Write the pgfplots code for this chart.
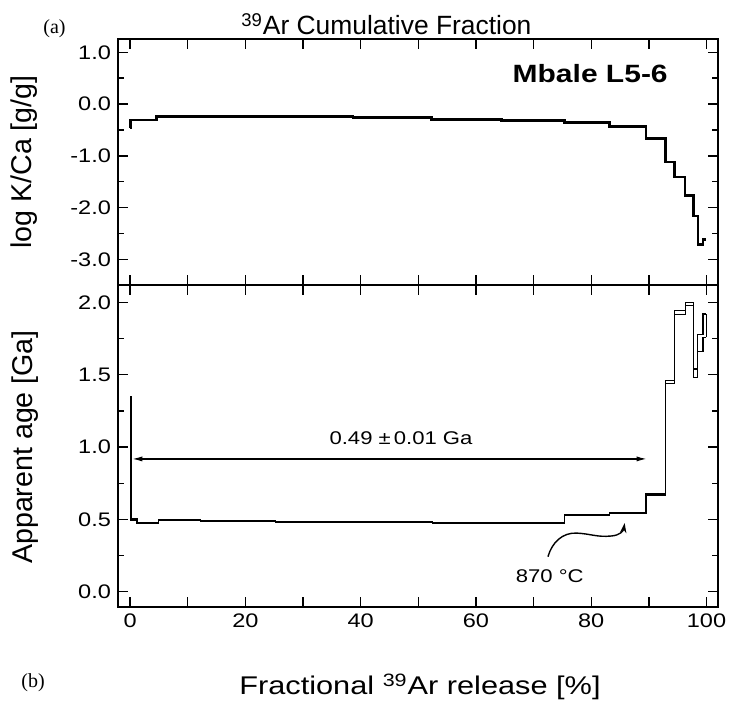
\documentclass[border=0pt]{standalone}
\usepackage{fontspec}
\setmainfont{Liberation Sans}[FakeStretch=1.2]
\newfontfamily\plainfont{Liberation Sans}
\newfontfamily\timesf{Liberation Serif}
\usepackage{pgfplots}
\usepackage{pgfplotstable}
\pgfplotsset{compat=1.18}
\usetikzlibrary{arrows.meta}

% log K/Ca step spectrum: x = start of step (% 39Ar), y = value
\pgfplotstableread{
x y
0 -0.46
0.08 -0.31
4.6 -0.235
38.7 -0.262
52.3 -0.295
64.4 -0.32
75.4 -0.36
83.2 -0.43
89.5 -0.67
92.9 -1.12
94.5 -1.41
96.3 -1.77
97.8 -2.16
98.5 -2.71
99.4 -2.62
100 -2.62
}\kca

% age spectrum: x = start of step, hi / lo = age +/- error (Ga)
\pgfplotstableread{
x hi lo
0 0.500 0.500
0 1.350 1.350
0.15 0.504 0.496
1.2 0.478 0.470
4.9 0.498 0.490
12.2 0.491 0.483
25.2 0.487 0.479
52.4 0.481 0.473
75.4 0.534 0.526
83.2 0.549 0.541
89.5 0.675 0.665
92.9 1.462 1.438
94.5 1.942 1.918
96.3 2.002 1.978
97.8 1.540 1.480
98.5 1.780 1.660
99.4 1.920 1.760
100 1.920 1.760
}\age

\begin{document}
\begin{tikzpicture}
\useasboundingbox (0pt,0pt) rectangle (364.5pt,352pt);
\pgfplotsset{
  panel/.style={
    scale only axis, width=300pt,
    xmin=-2.1, xmax=102,
    axis line style={line width=0.8pt},
    every tick/.style={line width=0.7pt, black},
    tick align=inside,
    major tick length=5pt, minor tick length=3pt,
    tick label style={font=\fontsize{9.8}{11}\selectfont},
    xtick={0,10,...,100},
  },
}
% ---------- (a) log K/Ca ----------
\begin{axis}[panel, at={(59pt,209.5pt)}, anchor=south west, height=123pt,
  ymin=-3.495, ymax=1.257,
  xticklabels={},
  ytick={-3,-2,-1,0,1},
  yticklabels={\mbox{-3.0},\mbox{-2.0},\mbox{-1.0},\mbox{0.0},\mbox{1.0}},
  minor ytick={-3.5,-2.5,-1.5,-0.5,0.5},
]
\addplot[const plot, black, line width=1.3pt] table[x=x, y=y] {\kca};
\node[anchor=east, font=\fontsize{12.5}{14}\selectfont\bfseries] at (axis cs:94.5,0.586) {Mbale L5-6};
\end{axis}
% ---------- (b) apparent age ----------
\begin{axis}[panel, at={(59pt,48.5pt)}, anchor=south west, height=161pt,
  ymin=-0.106, ymax=2.121,
  xticklabels={\mbox{0},,\mbox{20},,\mbox{40},,\mbox{60},,\mbox{80},,\mbox{100}},
  ytick={0,0.5,1,1.5,2},
  yticklabels={\mbox{0.0},\mbox{0.5},\mbox{1.0},\mbox{1.5},\mbox{2.0}},
  minor ytick={0.25,0.75,1.25,1.75},
]
\addplot[const plot, black, line width=0.6pt] table[x=x, y=hi] {\age};
\addplot[const plot, black, line width=0.6pt] table[x=x, y=lo] {\age};
\addplot[black, line width=0.6pt] coordinates {(100,1.76) (100,1.92)};
\draw[{Latex[length=5pt,width=2.6pt]}-{Latex[length=5pt,width=2.6pt]}, line width=0.6pt]
  (axis cs:0.4,0.918) -- (axis cs:89.6,0.918);
\node[font=\fontsize{9.2}{10}\selectfont] at (axis cs:47,1.065) {0.49 ±\,0.01 Ga};
\draw[-{Stealth[length=5pt,width=3.2pt]}, line width=0.7pt]
  (axis cs:72.5,0.242) .. controls (axis cs:73.2,0.34) and (axis cs:75,0.41) ..
  (axis cs:77.5,0.405) .. controls (axis cs:80,0.40) and (axis cs:81,0.375) ..
  (axis cs:83.5,0.385) .. controls (axis cs:85,0.39) and (axis cs:85.6,0.42) ..
  (axis cs:85.8,0.475);
\node[font=\fontsize{9.2}{10}\selectfont] at (axis cs:72.8,0.104) {870 °C};
\end{axis}
% ---------- labels ----------
\node[anchor=base west, inner sep=0pt, font=\plainfont\fontsize{13.2}{15}\selectfont] at (120.5pt,334.5pt) {\textsuperscript{39}Ar Cumulative Fraction};
\node[anchor=base west, inner sep=0pt, font=\timesf\fontsize{10}{12}\selectfont] at (21.5pt,335pt) {(a)};
\node[anchor=base west, inner sep=0pt, font=\timesf\fontsize{10}{12}\selectfont] at (10.5pt,8pt) {(b)};
\node[rotate=90, font=\plainfont\fontsize{14.3}{16}\selectfont] at (12pt,271pt) {log K/Ca [g/g]};
\node[rotate=90, font=\plainfont\fontsize{14.3}{16}\selectfont] at (12.5pt,128.5pt) {Apparent age [Ga]};
\node[anchor=base, font=\fontsize{12.8}{14}\selectfont] at (210pt,4.5pt) {Fractional \textsuperscript{39}Ar release [\%]};
\end{tikzpicture}
\end{document}
